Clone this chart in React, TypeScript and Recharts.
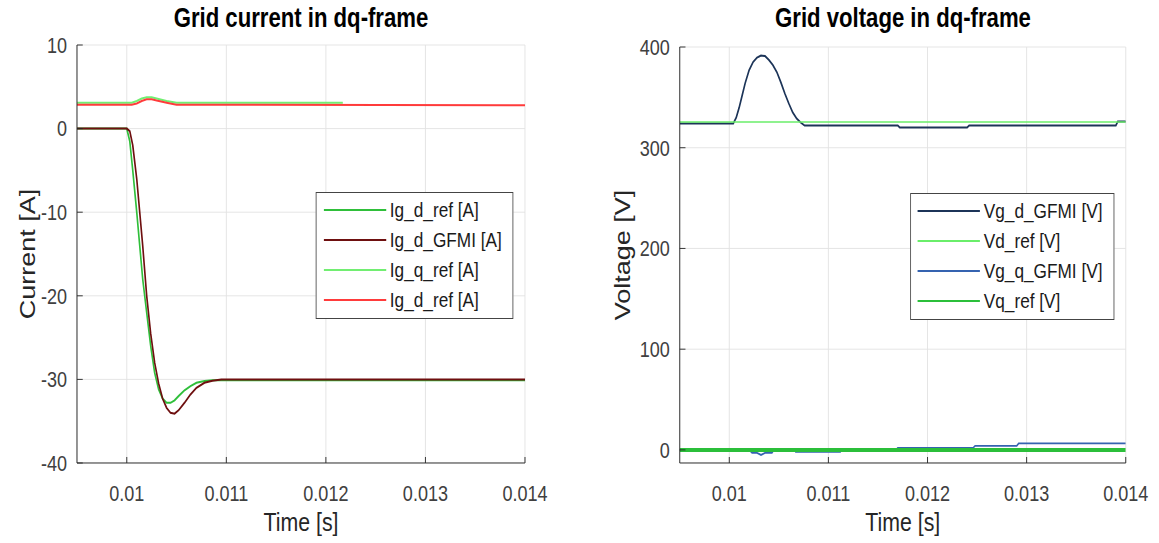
import { LineChart, Line, XAxis, YAxis, CartesianGrid } from "recharts"

const timeTicks = [0.01, 0.011, 0.012, 0.013, 0.014]
const currentTicks = [-40, -30, -20, -10, 0, 10]
const voltageTicks = [0, 100, 200, 300, 400]

// d-axis current transient
const tStep = [0.0095, 0.01, 0.01003, 0.01006, 0.0101, 0.01013, 0.01016, 0.0102, 0.01024, 0.01028, 0.01032, 0.01036, 0.0104, 0.01044, 0.01048, 0.01052, 0.01058, 0.01064, 0.0107, 0.01078, 0.01086, 0.01095, 0.011, 0.0125, 0.014]
const igdRef = [0, 0, -1.5, -5, -10, -14, -18, -22, -26, -29.2, -31.2, -32.3, -32.8, -32.8, -32.5, -32, -31.3, -30.8, -30.4, -30.2, -30.1, -30.1, -30.1, -30.1, -30.1]
const igdGfmi = [0, 0, -0.3, -2, -6, -10, -14, -20, -24.5, -28, -30.5, -32.3, -33.4, -34, -34.1, -33.7, -32.8, -31.8, -31, -30.4, -30.15, -30, -30, -30, -30]

// q-axis current
const tQ = [0.0095, 0.01005, 0.0101, 0.01015, 0.0102, 0.01025, 0.0103, 0.0104, 0.0105, 0.01217]
const igqRef = [3.1, 3.1, 3.3, 3.6, 3.75, 3.75, 3.6, 3.3, 3.1, 3.1]
const tRed = [0.0095, 0.01005, 0.0101, 0.01015, 0.0102, 0.01025, 0.0103, 0.0104, 0.0105, 0.014]
const igRed = [2.85, 2.85, 3.0, 3.3, 3.5, 3.5, 3.35, 3.1, 2.85, 2.8]

// grid voltage
const tVd = [0.0095, 0.01004, 0.01007, 0.0101, 0.01013, 0.01016, 0.0102, 0.01024, 0.01028, 0.01032, 0.01036, 0.0104, 0.01044, 0.01048, 0.01052, 0.01056, 0.0106, 0.01064, 0.01068, 0.01072, 0.01076, 0.0117, 0.01172, 0.0124, 0.01242, 0.0139, 0.01392, 0.014]
const vgd = [324, 324, 330, 340, 352, 364, 377, 385, 389.5, 391.5, 391, 387, 382, 375, 365, 354, 344, 335, 329, 325, 322, 322, 320, 320, 322, 322, 326, 326]
const tVdRef = [0.0095, 0.014]
const vdRef = [325.5, 325.5]
const tVq = [0.0095, 0.0102, 0.01023, 0.01028, 0.01032, 0.01036, 0.01043, 0.01045, 0.01066, 0.01067, 0.01112, 0.01113, 0.01168, 0.0117, 0.01246, 0.01248, 0.0129, 0.01292, 0.014]
const vgq = [0, 0, -3, -3, -5, -3, -3, 0, 0, -2, -2, 0, 0, 2, 2, 4, 4, 6.5, 6.5]
const tVqRef = [0.0095, 0.014]
const vqRef = [0, 0]

const zip = (t: number[], v: number[]) => t.map((x, i) => ({ t: x, v: v[i] }))

const currentSeries = [
  { name: "Ig_d_ref [A]", data: zip(tStep, igdRef), color: "#2fbf3a", width: 2 },
  { name: "Ig_d_GFMI [A]", data: zip(tStep, igdGfmi), color: "#6e0f0f", width: 2 },
  { name: "Ig_q_ref [A]", data: zip(tQ, igqRef), color: "#72ee72", width: 2 },
  { name: "Ig_d_ref [A]", data: zip(tRed, igRed), color: "#ff3b3b", width: 2 },
]

const voltageSeries = [
  { name: "Vg_d_GFMI [V]", data: zip(tVd, vgd), color: "#1c3458", width: 2 },
  { name: "Vd_ref [V]", data: zip(tVdRef, vdRef), color: "#6aee6a", width: 1.5 },
  { name: "Vg_q_GFMI [V]", data: zip(tVq, vgq), color: "#3563b0", width: 1.8 },
  { name: "Vq_ref [V]", data: zip(tVqRef, vqRef), color: "#2bbf3a", width: 4 },
]

// the figure is squeezed horizontally, so draw wider and scale x down
const SX = 0.82
const px = (v: number) => v / SX

const axisColor = "#262626"
const tickStyle = { fill: "#404040", fontSize: 22 }

type Series = { name: string; data: { t: number; v: number }[]; color: string; width: number }

function LegendBox({ items, left, top, width }: { items: Series[]; left: number; top: number; width: number }) {
  return (
    <div
      style={{
        position: "absolute",
        left: px(left),
        top,
        width: px(width),
        height: 127,
        border: "1px solid #444",
        background: "#fff",
        boxSizing: "border-box",
        paddingTop: 2,
      }}
    >
      {items.map((s, i) => (
        <div key={i} style={{ position: "relative", height: 30 }}>
          <div style={{ position: "absolute", left: px(7), top: 14, width: px(62), height: 2, background: s.color }} />
          <div style={{ position: "absolute", left: px(73), top: 0, fontSize: 21, lineHeight: "30px", color: "#1a1a1a", whiteSpace: "nowrap" }}>
            {s.name}
          </div>
        </div>
      ))}
    </div>
  )
}

function Panel({
  left,
  width,
  yWidth,
  rightMargin,
  top,
  title,
  yLabel,
  yLabelOffset,
  domain,
  ticks,
  series,
}: {
  left: number
  width: number
  yWidth: number
  rightMargin: number
  top: number
  title: string
  yLabel: string
  yLabelOffset: number
  domain: [number, number]
  ticks: number[]
  series: Series[]
}) {
  const w = px(width)
  const yw = px(yWidth)
  const rm = px(rightMargin)
  return (
    <div style={{ position: "absolute", left: px(left), top: 0, width: w, height: 543 }}>
      <div
        style={{
          position: "absolute",
          left: yw,
          top: 3,
          width: w - yw - rm,
          textAlign: "center",
          fontSize: 27,
          fontWeight: "bold",
          lineHeight: "30px",
          color: "#000",
        }}
      >
        {title}
      </div>
      <LineChart width={w} height={543} margin={{ top, right: rm, bottom: 0, left: 0 }}>
        <CartesianGrid stroke="#e2e2e2" />
        <XAxis
          dataKey="t"
          type="number"
          domain={[0.0095, 0.014]}
          ticks={timeTicks}
          interval={0}
          allowDataOverflow
          height={80}
          tickFormatter={(v) => String(v)}
          axisLine={{ stroke: axisColor }}
          tickLine={{ stroke: axisColor }}
          tickSize={-6}
          tickMargin={28}
          tick={tickStyle}
          label={{ value: "Time [s]", position: "insideBottom", offset: 12, fill: axisColor, fontSize: 26 }}
        />
        <YAxis
          type="number"
          domain={domain}
          ticks={ticks}
          interval={0}
          allowDataOverflow
          width={yw}
          axisLine={{ stroke: axisColor }}
          tickLine={{ stroke: axisColor }}
          tickSize={-7}
          tickMargin={19}
          tick={tickStyle}
          label={{
            value: yLabel,
            angle: -90,
            position: "insideLeft",
            offset: px(yLabelOffset),
            fill: axisColor,
            fontSize: 27,
            style: { textAnchor: "middle" },
          }}
        />
        {series.map((s, i) => (
          <Line
            key={i}
            data={s.data}
            dataKey="v"
            name={s.name}
            type="linear"
            stroke={s.color}
            strokeWidth={s.width}
            dot={false}
            activeDot={false}
            isAnimationActive={false}
          />
        ))}
      </LineChart>
    </div>
  )
}

export default function App() {
  return (
    <div
      style={{
        position: "absolute",
        left: 0,
        top: 0,
        width: px(1159),
        height: 543,
        background: "#fff",
        fontFamily: "'Liberation Sans', Arial, sans-serif",
        transform: `scaleX(${SX})`,
        transformOrigin: "0 0",
      }}
    >
      <Panel
        left={0}
        width={580}
        yWidth={77}
        rightMargin={55}
        top={45}
        title="Grid current in dq-frame"
        yLabel="Current [A]"
        yLabelOffset={27}
        domain={[-40, 10]}
        ticks={currentTicks}
        series={currentSeries}
      />
      <Panel
        left={580}
        width={579}
        yWidth={100}
        rightMargin={33}
        top={47}
        title="Grid voltage in dq-frame"
        yLabel="Voltage [V]"
        yLabelOffset={42}
        domain={[-13, 400]}
        ticks={voltageTicks}
        series={voltageSeries}
      />
      <LegendBox items={currentSeries} left={316} top={192} width={197} />
      <LegendBox items={voltageSeries} left={910} top={193} width={204} />
    </div>
  )
}
